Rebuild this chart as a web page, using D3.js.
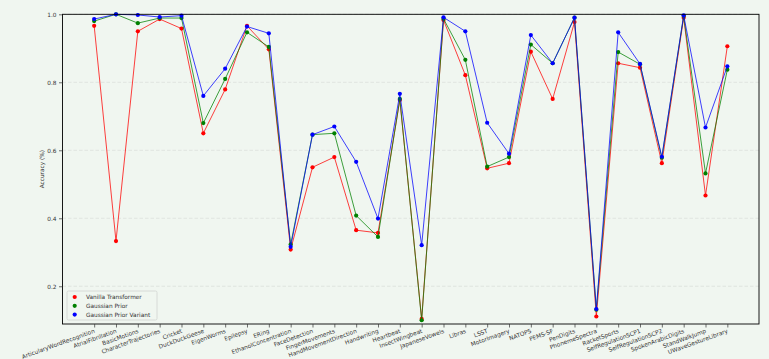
<!DOCTYPE html>
<html>
<head>
<meta charset="utf-8">
<script src="https://cdn.jsdelivr.net/npm/d3@7"></script>
<style>
  body { margin: 0; background: #f0f6f0; }
  text { font-family: "DejaVu Sans", sans-serif; }
</style>
</head>
<body>
<div id="chart"></div>
<script>
const categories = ["ArticularyWordRecognition", "AtrialFibrillation", "BasicMotions", "CharacterTrajectories",
  "Cricket", "DuckDuckGeese", "EigenWorms", "Epilepsy", "ERing", "EthanolConcentration", "FaceDetection",
  "FingerMovements", "HandMovementDirection", "Handwriting", "Heartbeat", "InsectWingbeat", "JapaneseVowels",
  "Libras", "LSST", "MotorImagery", "NATOPS", "PEMS-SF", "PenDigits", "PhonemeSpectra", "RacketSports",
  "SelfRegulationSCP1", "SelfRegulationSCP2", "SpokenArabicDigits", "StandWalkJump", "UWaveGestureLibrary"]

const vanilla = [0.966, 0.333, 0.950, 0.986, 0.958, 0.650, 0.779, 0.966, 0.897, 0.308, 0.550,
  0.580, 0.365, 0.357, 0.748, 0.104, 0.983, 0.821, 0.547, 0.562, 0.890, 0.751, 0.977, 0.111, 0.856,
  0.843, 0.562, 0.990, 0.467, 0.906]
const gaussian = [0.980, 1.000, 0.974, 0.989, 0.989, 0.680, 0.810, 0.947, 0.904, 0.323, 0.646,
  0.650, 0.408, 0.345, 0.751, 0.100, 0.987, 0.866, 0.552, 0.580, 0.911, 0.856, 0.990, 0.131, 0.889,
  0.853, 0.578, 0.995, 0.532, 0.837]
const variant = [0.986, 1.000, 0.998, 0.992, 0.996, 0.760, 0.840, 0.964, 0.944, 0.316, 0.646,
  0.670, 0.566, 0.399, 0.766, 0.321, 0.991, 0.950, 0.681, 0.590, 0.939, 0.856, 0.990, 0.133, 0.947,
  0.854, 0.581, 0.997, 0.667, 0.847]

const yTicks = [0.2, 0.4, 0.6, 0.8, 1.0]

const series = [
  {name: "Vanilla Transformer", values: vanilla, color: "#ff0000"},
  {name: "Gaussian Prior", values: gaussian, color: "#008000"},
  {name: "Gaussian Prior Variant", values: variant, color: "#0000ff"}
]

const W = 769, H = 359
const PLOT = {LEFT: 62.5, RIGHT: 759, TOP: 14.3, BOTTOM: 324}
const FONT = 5.8

const svg = d3.select("#chart").append("svg")
  .attr("width", W).attr("height", H)

svg.append("rect").attr("width", W).attr("height", H).attr("fill", "#f0f6f0")

const x = d3.scalePoint()
  .domain(categories)
  .range([PLOT.LEFT, PLOT.RIGHT])
  .padding(1.45)

const y = d3.scaleLinear()
  .domain([0.089, 1.0])
  .range([PLOT.BOTTOM, PLOT.TOP])

// grid
svg.append("g").selectAll("line")
  .data(yTicks)
  .enter().append("line")
  .attr("x1", PLOT.LEFT).attr("x2", PLOT.RIGHT)
  .attr("y1", d => y(d)).attr("y2", d => y(d))
  .attr("stroke", "#d8dcd8")
  .attr("stroke-width", 0.7)
  .attr("stroke-dasharray", "3.5,2")

// lines + markers
const line = d3.line()
  .x((d, i) => x(categories[i]))
  .y(d => y(d))

series.forEach(s => {
  svg.append("path")
    .datum(s.values)
    .attr("d", line)
    .attr("fill", "none")
    .attr("stroke", s.color)
    .attr("stroke-opacity", 0.75)
    .attr("stroke-width", 1)

  svg.append("g").selectAll("circle")
    .data(s.values)
    .enter().append("circle")
    .attr("cx", (d, i) => x(categories[i]))
    .attr("cy", d => y(d))
    .attr("r", 2.1)
    .attr("fill", s.color)
})

// frame
svg.append("rect")
  .attr("x", PLOT.LEFT).attr("y", PLOT.TOP)
  .attr("width", PLOT.RIGHT - PLOT.LEFT)
  .attr("height", PLOT.BOTTOM - PLOT.TOP)
  .attr("fill", "none")
  .attr("stroke", "#000")
  .attr("stroke-width", 0.9)

// y axis
const yAxis = svg.append("g")
  .attr("transform", `translate(${PLOT.LEFT},0)`)
  .call(d3.axisLeft(y).tickValues(yTicks).tickFormat(d3.format(".1f")).tickSize(3.5).tickPadding(2.5))
yAxis.select(".domain").remove()
yAxis.selectAll("line").attr("stroke", "#333").attr("stroke-width", 0.7)
yAxis.selectAll("text").attr("font-size", FONT).attr("fill", "#333")
  .attr("font-family", "DejaVu Sans")

// x axis
const xAxis = svg.append("g")
  .attr("transform", `translate(0,${PLOT.BOTTOM})`)
  .call(d3.axisBottom(x).tickSize(3.5))
xAxis.select(".domain").remove()
xAxis.selectAll("line").attr("stroke", "#333").attr("stroke-width", 0.7)
xAxis.selectAll("text")
  .attr("font-size", FONT).attr("fill", "#333")
  .attr("font-family", "DejaVu Sans")
  .attr("text-anchor", "end")
  .attr("y", 0).attr("dy", "0.75em")
  .attr("transform", "translate(-1,4.5) rotate(-20)")

// y label
svg.append("text")
  .attr("transform", `translate(44,${(PLOT.TOP + PLOT.BOTTOM) / 2}) rotate(-90)`)
  .attr("text-anchor", "middle")
  .attr("font-size", FONT)
  .attr("fill", "#333")
  .text("Accuracy (%)")

// legend
const legend = svg.append("g").attr("transform", "translate(67,291)")
legend.append("rect")
  .attr("width", 90).attr("height", 29)
  .attr("rx", 1.5)
  .attr("fill", "#f0f6f0")
  .attr("stroke", "#d0d4d0")
  .attr("stroke-width", 0.8)

const items = legend.selectAll("g.item")
  .data(series)
  .enter().append("g")
  .attr("transform", (d, i) => `translate(0,${6 + i * 8.8})`)
items.append("circle")
  .attr("cx", 7.7).attr("cy", 0).attr("r", 2.1)
  .attr("fill", d => d.color)
items.append("text")
  .attr("x", 19).attr("y", 0).attr("dy", "0.35em")
  .attr("font-size", FONT)
  .attr("fill", "#333")
  .text(d => d.name)
</script>
</body>
</html>
